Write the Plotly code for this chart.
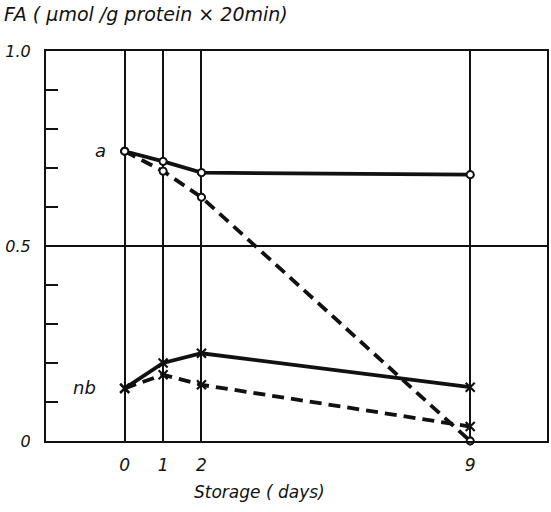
import plotly.graph_objects as go

# Storage time (days) at which samples were measured
days = [0, 1, 2, 9]

# Fatty-acid activity, µmol/g protein × 20 min
a_solid = [0.743, 0.717, 0.688, 0.683]
a_dashed = [0.743, 0.692, 0.625, 0.0]
nb_solid = [0.135, 0.200, 0.225, 0.138]
nb_dashed = [0.135, 0.170, 0.144, 0.037]

y_tick_vals = [0, 0.5, 1.0]
y_tick_text = ["0", "0.5", "1.0"]
x_tick_vals = [0, 1, 2, 9]
x_tick_text = ["0", "1", "2", "9"]

FONT = "DejaVu Sans"
BLACK = "#111111"

fig = go.Figure()


def add_series(y, dashed, symbol):
    fig.add_trace(go.Scatter(
        x=days, y=y, mode="lines+markers", cliponaxis=False,
        line=dict(color=BLACK, width=3.8, dash="12px,7px" if dashed else "solid"),
        marker=dict(
            symbol=symbol,
            size=7 if symbol == "circle" else 9,
            color="white" if symbol == "circle" else BLACK,
            line=dict(color=BLACK, width=1.8 if symbol == "circle" else 2.2),
        ),
        showlegend=False,
    ))


add_series(a_dashed, True, "circle")
add_series(a_solid, False, "circle")
add_series(nb_dashed, True, "x-thin-open")
add_series(nb_solid, False, "x-thin-open")

# white-filled circle markers drawn on top of the lines
for y in (a_dashed, a_solid):
    fig.add_trace(go.Scatter(
        x=days, y=y, mode="markers", cliponaxis=False,
        marker=dict(symbol="circle", size=7, color="white",
                    line=dict(color=BLACK, width=1.8)),
        showlegend=False,
    ))

label_font = dict(family=FONT, size=18, color=BLACK, style="italic")
fig.add_annotation(x=-0.62, y=0.745, text="a", showarrow=False, font=label_font)
fig.add_annotation(x=-1.05, y=0.136, text="nb", showarrow=False, font=label_font)

fig.add_annotation(
    xref="paper", yref="paper", x=-0.088, y=1.095, xanchor="left", yanchor="middle",
    text="FA ( μmol /g protein × 20min)", showarrow=False,
    font=dict(family=FONT, size=19, color=BLACK, style="italic"),
)
fig.add_annotation(
    x=3.5, yref="paper", y=-0.13, yanchor="middle",
    text="Storage ( days)", showarrow=False,
    font=dict(family=FONT, size=17, color=BLACK, style="italic"),
)

fig.update_xaxes(
    range=[-2.05, 11.0], tickvals=x_tick_vals, ticktext=x_tick_text,
    showgrid=True, gridcolor=BLACK, gridwidth=1.6,
    showline=True, linecolor=BLACK, linewidth=2, mirror=True,
    ticks="", zeroline=False, ticklabelstandoff=8,
    tickfont=dict(family=FONT, size=17, color=BLACK, style="italic"),
)
fig.update_yaxes(
    range=[0, 1.0], tickvals=y_tick_vals, ticktext=y_tick_text,
    showgrid=True, gridcolor=BLACK, gridwidth=1.6,
    showline=True, linecolor=BLACK, linewidth=2, mirror=True,
    ticks="inside", ticklen=12, tickwidth=1.6, tickcolor=BLACK,
    minor=dict(dtick=0.1, ticks="inside", ticklen=12, tickwidth=1.6,
               tickcolor=BLACK, showgrid=False),
    zeroline=False, ticklabelstandoff=10,
    tickfont=dict(family=FONT, size=16, color=BLACK, style="italic"),
)

fig.update_layout(
    width=551, height=512,
    margin=dict(l=46, r=2, t=51, b=71),
    paper_bgcolor="white", plot_bgcolor="white",
    font=dict(family=FONT, color=BLACK),
)

fig.write_html("out.html")
